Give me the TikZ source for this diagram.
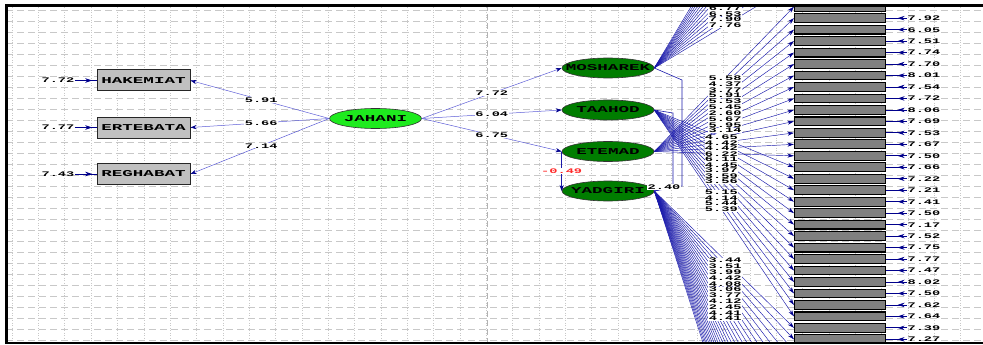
\documentclass[tikz,border=0pt]{standalone}
\usepackage{fontspec}
\newfontfamily\lis{Liberation Mono}[FakeStretch=1.95]
\usetikzlibrary{shapes.geometric,arrows.meta,decorations.markings,calc}
\definecolor{gridc}{RGB}{200,200,200}
\definecolor{lineblue}{RGB}{95,95,215}
\definecolor{fanblue}{RGB}{25,25,170}
\definecolor{tipblue}{RGB}{0,0,140}
\definecolor{litegreen}{RGB}{30,235,30}
\definecolor{darkgreen}{RGB}{0,125,0}
\definecolor{boxgray}{RGB}{192,192,192}
\definecolor{indgray}{RGB}{128,128,128}
\definecolor{redlab}{RGB}{255,40,40}
\tikzset{
  nm/.style={font=\lis\bfseries\fontsize{9}{9}\selectfont},
  num/.style={font=\lis\bfseries\fontsize{7}{7}\selectfont, inner sep=0.4pt, text height=4.8pt, text depth=0pt},
  numw/.style={num, fill=white},
  obs/.style={draw=black!85, line width=1pt, fill=boxgray, minimum width=93pt, minimum height=21pt, inner sep=0pt, nm},
  ind/.style={draw=black, line width=1.1pt, fill=indgray, minimum width=91pt, minimum height=8.8pt, inner sep=0pt},
  lat/.style={ellipse, draw=black!80, line width=0.6pt, minimum width=92pt, minimum height=20pt, inner sep=0pt},
  jline/.style={draw=lineblue, line width=0.5pt, -{Stealth[length=6pt,width=4.2pt,color=tipblue]}},
  fan/.style={draw=fanblue, line width=0.45pt, -{Stealth[length=6.5pt,width=4pt,color=tipblue]}},
  errarr/.style={draw=tipblue, line width=0.8pt, postaction={decorate},
    decoration={markings, mark=at position #1 with {\arrow{Stealth[length=7pt,width=4.5pt]}}}},
  vgrid/.style={draw=gridc, line width=0.5pt, dash pattern=on 1pt off 1.5pt},
  hgrid/.style={draw=gridc, line width=0.5pt, dash pattern=on 7pt off 4pt},
}
\begin{document}
\begin{tikzpicture}[x=1pt,y=-1pt]
\useasboundingbox (0,0) rectangle (983,345);
% grid
\foreach \k in {0,...,37} \draw[vgrid] ({12+26.35*\k},5) -- ({12+26.35*\k},343);
\foreach \k in {0,...,30} \draw[hgrid] (6,{10+11*\k}) -- (983,{10+11*\k});
\draw[draw=gray!60, line width=0.8pt, dash pattern=on 6pt off 3pt] (487,5) -- (487,343);

\begin{scope}
\clip (6,5) rectangle (983,343);
% left observed boxes
\node[obs] (HAK) at (143.5,80.5) {HAKEMIAT};
\node[obs] (ERT) at (143.5,127.5) {ERTEBATA};
\node[obs] (REG) at (143.5,174) {REGHABAT};
\node[num] (eHAK) at (58,80.5) {7.72};
\node[num] (eERT) at (58,127.5) {7.77};
\node[num] (eREG) at (58,174) {7.43};
\draw[errarr=0.8] (eHAK.east) -- (HAK.west);
\draw[errarr=0.8] (eERT.east) -- (ERT.west);
\draw[errarr=0.8] (eREG.east) -- (REG.west);

% latent variables
\node[lat, fill=litegreen, label={[nm]center:JAHANI}] (JAH) at (375.5,118.5) {};
\node[lat, fill=darkgreen, label={[nm]center:MOSHAREK}] (MOS) at (608,68) {};
\node[lat, fill=darkgreen, label={[nm]center:TAAHOD}] (TAA) at (608,110) {};
\node[lat, fill=darkgreen, label={[nm]center:ETEMAD}] (ETE) at (608,151.5) {};
\node[lat, fill=darkgreen, label={[nm]center:YADGIRI}] (YAD) at (608,191) {};

% right indicator boxes
\foreach \i in {0,...,29} {
  \pgfmathsetmacro\yy{6.7+11.47*\i}
  \node[ind] (b\i) at (840,\yy) {};
}
\foreach \i in {30,...,54} {
  \pgfmathsetmacro\yy{6.7+11.47*\i}
  \coordinate (b\i) at (794,\yy);
}
\foreach \k in {2,...,15} {
  \pgfmathsetmacro\yy{6.7-11.47*\k}
  \coordinate (mt\k) at (794,\yy);
}

% fans
\foreach \k in {2,...,15} \draw[fan] (MOS.east) -- (mt\k);
\foreach \i in {0,...,13} \draw[fan] (ETE.east) -- (b\i.west);
\foreach \i in {14,...,27} \draw[fan] (TAA.east) -- (b\i.west);
\foreach \i in {28,29} \draw[fan] (YAD.east) -- (b\i.west);
\foreach \i in {30,...,54} \draw[fan] (YAD.east) -- (b\i);

% covariance lines
\draw[draw=fanblue, line width=0.6pt] (MOS.east) -- (682,80) -- (682,186) -- (YAD.east);
\draw[draw=fanblue, line width=0.6pt] (TAA.east) -- (673,113) -- (673,186) -- (YAD.east);

% JAHANI paths
\draw[jline] (JAH.west) -- (HAK.east);
\draw[jline] (JAH.west) -- (ERT.east);
\draw[jline] (JAH.west) -- (REG.east);
\draw[jline] (JAH.east) -- (MOS.west);
\draw[jline] (JAH.east) -- (TAA.west);
\draw[jline] (JAH.east) -- (ETE.west);
\node[numw] (l1) at ($(JAH.west)!0.49!(HAK.east)$) {5.91};
\node[numw] (l2) at ($(JAH.west)!0.49!(ERT.east)$) {5.66};
\node[numw] (l3) at ($(JAH.west)!0.49!(REG.east)$) {7.14};
\node[numw] (l4) at ($(JAH.east)!0.5!(MOS.west)$) {7.72};
\node[numw] (l5) at ($(JAH.east)!0.5!(TAA.west)$) {6.04};
\node[numw] (l6) at ($(JAH.east)!0.5!(ETE.west)$) {6.75};

% ETEMAD -> YADGIRI
\draw[draw=fanblue, line width=0.6pt, -{Stealth[length=6pt,width=4.2pt,color=tipblue]}] (ETE.west) -- (YAD.west);
\node[numw, text=redlab] (l7) at ($(ETE.west)!0.5!(YAD.west)$) {-0.49};

% loading labels
\foreach \k/\v in {2/7.76,3/7.90,4/6.53,5/6.77}
  \node[numw] (lm\k) at ($(MOS.east)!0.507!(mt\k)$) {\v};
\foreach \i/\v in {0/5.58,1/4.37,2/3.77,3/5.91,4/5.53,5/5.45,6/2.60,7/5.67,8/5.95,9/3.14}
  \node[numw] (le\i) at ($(ETE.east)!0.507!(b\i.west)$) {\v};
\foreach \i/\v in {14/4.65,15/4.42,16/4.42,17/6.22,18/6.11,19/4.45,20/3.97,21/3.59,22/3.56,24/5.15,25/4.14,26/5.44,27/5.39}
  \node[numw] (lt\i) at ($(TAA.east)!0.48!(b\i.west)$) {\v};
\node[numw] (ly28) at ($(YAD.east)!0.507!(b28.west)$) {3.44};
\node[numw] (ly29) at ($(YAD.east)!0.507!(b29.west)$) {3.51};
\foreach \i/\v in {30/3.99,31/4.42,32/4.08,33/3.06,34/3.77,35/4.12,36/2.45,37/4.41,38/4.41}
  \node[numw] (ly\i) at ($(YAD.east)!0.507!(b\i)$) {\v};
\node[numw] (cov) at (664,187) {2.40};

% right error terms
\foreach \i/\v in {1/7.92,2/6.05,3/7.51,4/7.74,5/7.70,6/8.01,7/7.54,8/7.72,9/8.06,10/7.69,11/7.53,12/7.67,13/7.50,14/7.66,15/7.22,16/7.21,17/7.41,18/7.50,19/7.17,20/7.52,21/7.75,22/7.77,23/7.47,24/8.02,25/7.50,26/7.62,27/7.64,28/7.39,29/7.27} {
  \pgfmathsetmacro\yy{6.7+11.47*\i}
  \node[num, anchor=west] (e\i) at (907,\yy) {\v};
  \draw[errarr=0.45] (e\i.west) -- (b\i.east);
}
\end{scope}

% frame
\draw[line width=2.6pt] (990,5.3) -- (6.3,5.3) -- (6.3,342.8) -- (990,342.8);
\end{tikzpicture}
\end{document}
